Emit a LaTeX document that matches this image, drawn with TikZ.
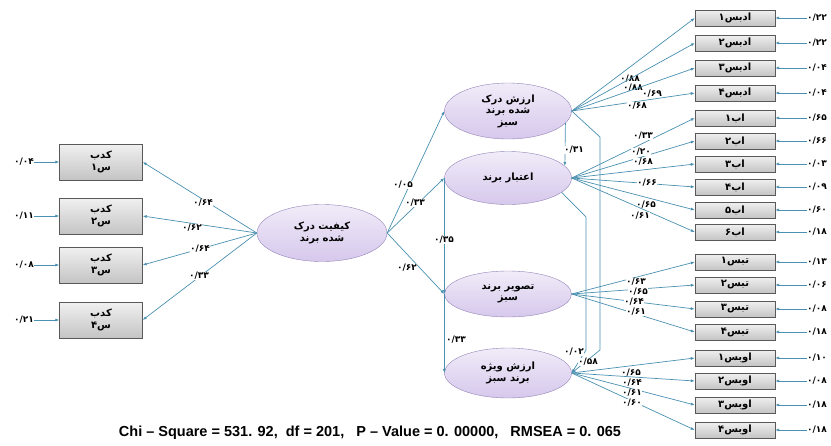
\documentclass[tikz,border=0pt]{standalone}
\usepackage{fontspec}
\setmainfont{Liberation Sans}
\newfontfamily\fafont[Script=Arabic]{DejaVu Sans}
\TeXXeTstate=1
\usepackage{tikz}
\usetikzlibrary{positioning,arrows.meta,shapes.geometric}
\definecolor{cline}{HTML}{4A90B0}
\definecolor{clatent}{HTML}{D6C8EC}
\definecolor{clatentdraw}{HTML}{9484B8}
\definecolor{cbox}{HTML}{C4C4C4}
\newcommand{\fatxt}[1]{\beginR#1\endR}
\tikzset{
  latent/.style={ellipse, draw=clatentdraw, top color=clatent!35, bottom color=clatent,
    align=center, minimum width=127pt, inner sep=0pt,
    font=\fafont\bfseries\fontsize{10}{11.5}\selectfont},
  obsbox/.style={draw=black!65, top color=cbox!25, bottom color=cbox,
    minimum width=80pt, minimum height=16pt, inner sep=1pt,
    font=\fafont\bfseries\fontsize{10}{12}\selectfont},
  leftbox/.style={obsbox, minimum width=83pt, minimum height=36pt, align=center},
  coef/.style={fill=white, inner sep=0.4pt, font=\fafont\bfseries\fontsize{9}{9}\selectfont},
  semarrow/.style={-{Latex[length=4pt,width=3pt]}, draw=cline, line width=0.7pt}
}
\begin{document}
\begin{tikzpicture}[x=1pt,y=-1pt]
  \useasboundingbox (0,0) rectangle (831,445);

  % latent variables
  \node[latent, minimum width=130pt, minimum height=57pt] (qual) at (322,233) {\fatxt{کیفیت درک}\\\fatxt{شده برند}};
  \node[latent, minimum height=56pt] (pv) at (508,111) {\fatxt{ارزش درک}\\\fatxt{شده برند}\\\fatxt{سبز}};
  \node[latent, minimum height=53pt] (trust) at (508,178) {\fatxt{اعتبار برند}};
  \node[latent, minimum height=46pt] (img) at (508,294) {\fatxt{تصویر برند}\\\fatxt{سبز}};
  \node[latent, minimum height=50pt] (equity) at (508,373) {\fatxt{ارزش ویژه}\\\fatxt{برند سبز}};

  % structural paths
  \coordinate (pvbend) at (600,137);
  \coordinate (pvdrop) at (600,350);
  \coordinate (trbend) at (586,217);
  \coordinate (trdrop) at (586,350);
  \draw[semarrow] (qual.east) -- (pv.west);
  \draw[semarrow] (qual.east) -- (trust.west);
  \draw[semarrow] (qual.east) -- (img.west);
  \draw[semarrow] (trust.west) -- (img.west);
  \draw[semarrow] (img.west) -- (equity.west);
  \draw[semarrow] (pv.-12) -- (trust.12);
  \draw[semarrow] (trust.-15) -- (trbend) -- (trdrop) -- (equity.east);
  \draw[semarrow] (pv.east) -- (pvbend) -- (pvdrop) -- (equity.east);
  \node[coef] (bqpv) at (403,185) {۰/۰۵};
  \node[coef] (bqtr) at (415,203) {۰/۳۳};
  \node[coef] (bqim) at (407,268) {۰/۶۲};
  \node[coef] (btrim) at (444,240) {۰/۳۵};
  \node[coef] (bimeq) at (456,340) {۰/۳۳};
  \node[coef] (bpvtr) at (574,150) {۰/۳۱};
  \node[coef] (btreq) at (574,352) {۰/۰۲};
  \node[coef] (bpveq) at (588,362) {۰/۵۸};

  % indicators of perceived quality
  \foreach \i/\d/\y/\ld/\er/\lx/\ly in {1/۱/162/{۰/۶۴}/{۰/۰۴}/203/203, 2/۲/216/{۰/۶۲}/{۰/۱۱}/192/228,
      3/۳/265/{۰/۶۴}/{۰/۰۸}/200/249, 4/۴/320/{۰/۳۳}/{۰/۲۱}/199/276}{
    \node[leftbox] (qb\i) at (101,\y) {\fatxt{کدب}\\\fatxt{س\d}};
    \node[coef] (qbe\i) at (24,\y) {\er};
    \draw[semarrow] (qbe\i) -- (qb\i);
    \draw[semarrow] (qual.west) -- (qb\i.east);
    \node[coef] (qbl\i) at (\lx,\ly) {\ld};
  }

  % indicators of green perceived value
  \foreach \i/\d/\y/\ld/\er/\lx/\ly in {1/۱/18/{۰/۸۸}/{۰/۲۲}/630/79, 2/۲/43/{۰/۸۸}/{۰/۲۲}/633/88,
      3/۳/68/{۰/۶۹}/{۰/۰۴}/652/94, 4/۴/93/{۰/۶۸}/{۰/۰۴}/637/106}{
    \node[obsbox] (pv\i) at (735,\y) {\fatxt{ادبس\d}};
    \node[coef] (pve\i) at (817,\y) {\er};
    \draw[semarrow] (pve\i) -- (pv\i);
    \draw[semarrow] (pv.east) -- (pv\i.west);
    \node[coef] (pvl\i) at (\lx,\ly) {\ld};
  }

  % indicators of brand trust
  \foreach \i/\d/\y/\ld/\er/\lx/\ly in {1/۱/118/{۰/۳۳}/{۰/۶۵}/643/136, 2/۲/141/{۰/۲۰}/{۰/۶۶}/641/152,
      3/۳/164/{۰/۶۸}/{۰/۰۳}/643/162, 4/۴/187/{۰/۶۶}/{۰/۰۹}/647/183,
      5/۵/210/{۰/۶۵}/{۰/۶۰}/646/205, 6/۶/232/{۰/۶۱}/{۰/۱۸}/640/216}{
    \node[obsbox] (tr\i) at (735,\y) {\fatxt{اب\d}};
    \node[coef] (tre\i) at (817,\y) {\er};
    \draw[semarrow] (tre\i) -- (tr\i);
    \draw[semarrow] (trust.east) -- (tr\i.west);
    \node[coef] (trl\i) at (\lx,\ly) {\ld};
  }

  % indicators of green brand image
  \foreach \i/\d/\y/\ld/\er/\lx/\ly in {1/۱/262/{۰/۶۳}/{۰/۱۳}/636/282, 2/۲/285/{۰/۶۵}/{۰/۰۶}/638/292,
      3/۳/309/{۰/۶۴}/{۰/۰۸}/634/302, 4/۴/332/{۰/۶۱}/{۰/۱۸}/636/312}{
    \node[obsbox] (im\i) at (735,\y) {\fatxt{تبس\d}};
    \node[coef] (ime\i) at (817,\y) {\er};
    \draw[semarrow] (ime\i) -- (im\i);
    \draw[semarrow] (img.east) -- (im\i.west);
    \node[coef] (iml\i) at (\lx,\ly) {\ld};
  }

  % indicators of green brand equity
  \foreach \i/\d/\y/\ld/\er/\lx/\ly in {1/۱/358/{۰/۶۵}/{۰/۱۰}/631/373, 2/۲/381/{۰/۶۴}/{۰/۰۸}/632/383,
      3/۳/405/{۰/۶۱}/{۰/۱۸}/632/393, 4/۴/430/{۰/۶۰}/{۰/۱۸}/632/403}{
    \node[obsbox] (eq\i) at (735,\y) {\fatxt{اوبس\d}};
    \node[coef] (eqe\i) at (817,\y) {\er};
    \draw[semarrow] (eqe\i) -- (eq\i);
    \draw[semarrow] (equity.east) -- (eq\i.west);
    \node[coef] (eql\i) at (\lx,\ly) {\ld};
  }

  \node[font=\bfseries\fontsize{14.5}{16}\selectfont] (fitstats) at (370,433)
    {Chi – Square = 531. 92,~ df = 201,~~ P – Value = 0. 00000,~~ RMSEA = 0. 065};
\end{tikzpicture}
\end{document}
